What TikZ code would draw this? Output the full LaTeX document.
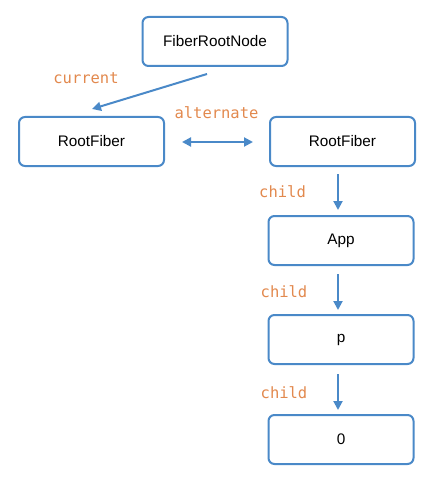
\documentclass[tikz,border=0pt]{standalone}
\usepackage{fontspec}
\setmainfont{Liberation Sans}
\newfontfamily\labmono{DejaVu Sans Mono}
\usetikzlibrary{arrows.meta}
\definecolor{fblue}{RGB}{74,137,200}
\definecolor{forange}{RGB}{226,137,78}
\tikzset{
  fbox/.style={draw=fblue, line width=2pt, rounded corners=6pt, fill=white,
    minimum width=145pt, minimum height=49pt, inner sep=0pt, font=\fontsize{15.3}{18}\selectfont},
  farrow/.style={draw=fblue, line width=2pt, -{Triangle[length=9pt,width=9pt]}},
  fdarrow/.style={draw=fblue, line width=2pt, {Triangle[length=9pt,width=9pt]}-{Triangle[length=9pt,width=9pt]}},
  flab/.style={text=forange, font=\labmono\fontsize{15.5}{18}\selectfont, inner sep=0pt}
}
\begin{document}
\begin{tikzpicture}[x=1pt,y=-1pt]
\useasboundingbox (0,0) rectangle (431,489);
\node[fbox] (root) at (215,41.5) {FiberRootNode};
\node[fbox] (rfl) at (91.5,141.5) {RootFiber};
\node[fbox] (rfr) at (342.5,141.5) {RootFiber};
\node[fbox] (app) at (341,240.5) {App};
\node[fbox] (p) at (341,339.5) {p};
\node[fbox] (zero) at (341,439.5) {0};
\coordinate (cs) at (207,74);
\coordinate (ce) at (92,109);
\draw[farrow] (cs) -- (ce);
\node[flab] (lcur) at (86,78) {current};
\coordinate (as) at (182,142);
\coordinate (ae) at (253,142);
\draw[fdarrow] (as) -- (ae);
\node[flab] (lalt) at (216.5,113) {alternate};
\draw[farrow] ([xshift=-4.5pt,yshift=-7pt]rfr.south) -- ([xshift=-3pt,yshift=5pt]app.north);
\node[flab] (lc1) at (282.5,192) {child};
\draw[farrow] ([xshift=-3pt,yshift=-8pt]app.south) -- ([xshift=-3pt,yshift=4pt]p.north);
\node[flab] (lc2) at (284,292) {child};
\draw[farrow] ([xshift=-3pt,yshift=-9pt]p.south) -- ([xshift=-3pt,yshift=4pt]zero.north);
\node[flab] (lc3) at (284,393) {child};
\end{tikzpicture}
\end{document}
